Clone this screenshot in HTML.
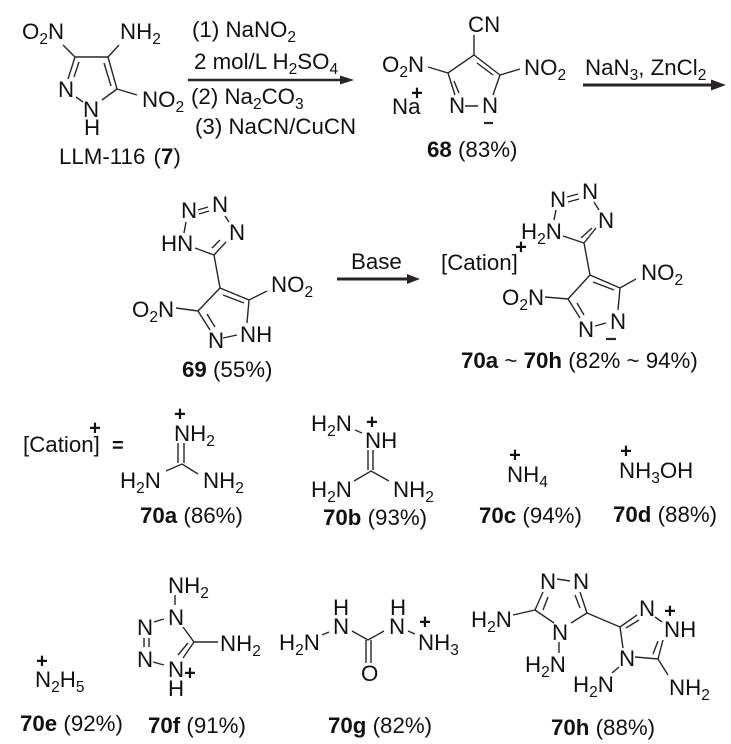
<!DOCTYPE html>
<html><head><meta charset="utf-8"><style>
html,body{margin:0;padding:0;background:#fff}
svg{display:block}
text{font-family:"Liberation Sans",Arial,sans-serif;font-size:22.3px;fill:#111}
.s{font-size:15.5px}
.b{font-weight:bold}
.p{font-weight:bold;font-size:20px;text-anchor:middle;transform:translateY(.7px)}
path{fill:none;stroke:#2a2523;stroke-width:1.4}
.a{stroke-width:2.4}
.h{fill:#2a2523;stroke:none}
</style></head><body>
<svg width="731" height="744" viewBox="0 0 731 744" xmlns="http://www.w3.org/2000/svg">
<!-- 7 -->
<path d="M63 45L75 57L108 57L119 45M75 57L68 79M79 62L74 77M108 57L117 89L137 95M104 63L111 86M117 89L102 100M76 97L83 102"/>
<text x="22" y="39">O<tspan class="s" dy="5">2</tspan><tspan dy="-5">N</tspan></text>
<text x="120" y="39">NH<tspan class="s" dy="5">2</tspan></text>
<text x="58" y="97">N</text><text x="83" y="117">N</text><text x="84" y="135">H</text>
<text x="142" y="107">NO<tspan class="s" dy="5">2</tspan></text>
<text x="59" y="164">LLM-116 <tspan dx="2">(</tspan><tspan class="b">7</tspan>)</text>
<text x="192" y="37">(1) NaNO<tspan class="s" dy="5">2</tspan></text>
<text x="194" y="69">2 mol/L H<tspan class="s" dy="5">2</tspan><tspan dy="-5">SO</tspan><tspan class="s" dy="5">4</tspan></text>
<path class="a" d="M188 80L342 80"/><path class="h" d="M354 80L340 75.5L340 84.500Z"/>
<text x="191" y="104">(2) Na<tspan class="s" dy="5">2</tspan><tspan dy="-5">CO</tspan><tspan class="s" dy="5">3</tspan></text>
<text x="195" y="134">(3) NaCN/CuCN</text>
<!-- 68 -->
<path d="M474 35L474 55L448 73L428 67M474 55L500 75L520 69M477 63L493 75M448 73L455 95M454 81L459 93M500 75L493 95M465 106L478 106"/>
<text x="468" y="32">CN</text>
<text x="382" y="72">O<tspan class="s" dy="5">2</tspan><tspan dy="-5">N</tspan></text>
<text x="524" y="75">NO<tspan class="s" dy="5">2</tspan></text>
<text x="392" y="114">Na</text><text class="p" x="417" y="99">+</text>
<text x="449" y="113">N</text><text x="482" y="113">N</text>
<path d="M484 123L493 123" style="stroke-width:2.200"/>
<text x="427" y="157"><tspan class="b">68</tspan> (83%)</text>
<text x="585" y="75">NaN<tspan class="s" dy="5">3</tspan><tspan dy="-5">, ZnCl</tspan><tspan class="s" dy="5">2</tspan></text>
<path class="a" d="M583 85L712 85" style="stroke-width:3"/><path class="h" d="M726 85L711 79.500L711 90.500Z"/>
<!-- 69 -->
<path d="M198 210L208 207M199 214L209 211M225 216L229 222M226 242L214 255M220 240L212 248M195 248L214 255M186 222L184 233M214 255L220 288L249 300L267 291M220 288L198 311L176 308M223 295L244 303M198 311L210 330M207 314L215 327M223 338L237 335M249 300L247 323"/>
<text x="181" y="218">N</text><text x="212" y="212">N</text><text x="229" y="240">N</text><text x="161" y="251">HN</text>
<text x="271" y="292">NO<tspan class="s" dy="5">2</tspan></text>
<text x="132" y="317">O<tspan class="s" dy="5">2</tspan><tspan dy="-5">N</tspan></text>
<text x="208" y="348">N</text><text x="240" y="342">NH</text>
<text x="182" y="377"><tspan class="b">69</tspan> (55%)</text>
<text x="351" y="269">Base</text>
<path class="a" d="M337 279L408 279" style="stroke-width:3"/><path class="h" d="M420 279L407 274L407 284Z"/>
<!-- 70 -->
<path d="M567 197L578 194M568 202L579 199M594 202L599 210M596 228L584 243M592 228L581 238M563 236L584 243M556 210L554 220M584 243L590 275L620 288L636 279M590 275L568 299L545 297M593 282L614 290M568 299L580 318M577 303L584 315M595 326L606 323M620 288L618 310"/>
<text x="550" y="207">N</text><text x="582" y="199">N</text><text x="598" y="228">N</text>
<text x="521" y="239">H<tspan class="s" dy="5">2</tspan><tspan dy="-5">N</tspan></text>
<text class="p" x="521" y="253">+</text>
<text x="441" y="270">[Cation]</text>
<text x="641" y="280">NO<tspan class="s" dy="5">2</tspan></text>
<text x="502" y="305">O<tspan class="s" dy="5">2</tspan><tspan dy="-5">N</tspan></text>
<text x="578" y="337">N</text><text x="610" y="329">N</text>
<path d="M606 339L616 339" style="stroke-width:2.200"/>
<text x="461" y="368"><tspan class="b">70a</tspan> ~ <tspan class="b">70h</tspan> (82% ~ 94%)</text>
<!-- cation row -->
<text x="23" y="452">[Cation]</text><text class="p" x="95" y="434">+</text>
<text class="b" x="112" y="452" style="font-size:20px">=</text>
<!-- 70a -->
<text class="p" x="180" y="420">+</text>
<text x="174" y="441">NH<tspan class="s" dy="5">2</tspan></text>
<path d="M178 443L178 463M184 443L184 463M166 471L182 464L198 474"/>
<text x="120" y="488">H<tspan class="s" dy="5">2</tspan><tspan dy="-5">N</tspan></text>
<text x="203" y="488">NH<tspan class="s" dy="5">2</tspan></text>
<text x="140" y="523"><tspan class="b">70a</tspan> (86%)</text>
<!-- 70b -->
<text x="311" y="431">H<tspan class="s" dy="5">2</tspan><tspan dy="-5">N</tspan></text>
<path d="M355 430L362 433M368 450L368 470M373 450L373 470M354 481L371 471L389 481"/>
<text class="p" x="372" y="428">+</text>
<text x="365" y="448">NH</text>
<text x="311" y="497">H<tspan class="s" dy="5">2</tspan><tspan dy="-5">N</tspan></text>
<text x="393" y="497">NH<tspan class="s" dy="5">2</tspan></text>
<text x="323" y="525"><tspan class="b">70b</tspan> (93%)</text>
<!-- 70c -->
<text class="p" x="515" y="461">+</text>
<text x="507" y="482">NH<tspan class="s" dy="5">4</tspan></text>
<text x="479" y="523"><tspan class="b">70c</tspan> (94%)</text>
<!-- 70d -->
<text class="p" x="626" y="457">+</text>
<text x="619" y="478">NH<tspan class="s" dy="5">3</tspan><tspan dy="-5">OH</tspan></text>
<text x="613" y="522"><tspan class="b">70d</tspan> (88%)</text>
<!-- 70e -->
<text class="p" x="42" y="667">+</text>
<text x="35" y="687">N<tspan class="s" dy="5">2</tspan><tspan dy="-5">H</tspan><tspan class="s" dy="5">5</tspan></text>
<text x="20" y="731"><tspan class="b">70e</tspan> (92%)</text>
<!-- 70f -->
<text x="168" y="593">NH<tspan class="s" dy="5">2</tspan></text>
<path d="M175 595L175 605M183 627L194 642L218 642M194 642L183 658M188 643L178 655M154 622L164 619M153 662L164 665M144 638L144 647M149 638L149 647"/>
<text x="168" y="625">N</text><text x="137" y="635">N</text><text x="137" y="667">N</text><text x="168" y="677">N</text><text x="168" y="696">H</text>
<text class="p" x="190" y="679">+</text>
<text x="220" y="651">NH<tspan class="s" dy="5">2</tspan></text>
<text x="148" y="733"><tspan class="b">70f</tspan> (91%)</text>
<!-- 70g -->
<text x="279" y="650">H<tspan class="s" dy="5">2</tspan><tspan dy="-5">N</tspan></text>
<text x="333" y="634">N</text><text x="333" y="615">H</text>
<text x="389" y="634">N</text><text x="390" y="615">H</text>
<text x="418" y="650">NH<tspan class="s" dy="5">3</tspan></text>
<text class="p" x="425" y="628">+</text>
<text x="361" y="681">O</text>
<path d="M366 640L366 663M371 640L371 663M352 631L368 640L384 631M322 635L329 632M408 631L415 634"/>
<text x="328" y="733"><tspan class="b">70g</tspan> (82%)</text>
<!-- 70h -->
<path d="M559 642L559 653M513 615L535 610L554 623M587 613L571 623M535 610L543 592M543 610L548 597M557 579L570 581M587 613L580 592M580 608L575 595M587 613L620 627L637 615M626 628L639 620M655 617L662 622M663 640L658 659L635 657M658 641L653 654M620 627L623 648M619 667L612 673M658 659L668 675"/>
<text x="540" y="589">N</text><text x="573" y="589">N</text><text x="552" y="640">N</text>
<text x="471" y="627">H<tspan class="s" dy="5">2</tspan><tspan dy="-5">N</tspan></text>
<text x="525" y="672">H<tspan class="s" dy="5">2</tspan><tspan dy="-5">N</tspan></text>
<text x="639" y="616">N</text><text x="664" y="637">NH</text><text class="p" x="670" y="617">+</text>
<text x="619" y="666">N</text>
<text x="573" y="692">H<tspan class="s" dy="5">2</tspan><tspan dy="-5">N</tspan></text>
<text x="669" y="695">NH<tspan class="s" dy="5">2</tspan></text>
<text x="551" y="735"><tspan class="b">70h</tspan> (88%)</text>
</svg>
</body></html>
